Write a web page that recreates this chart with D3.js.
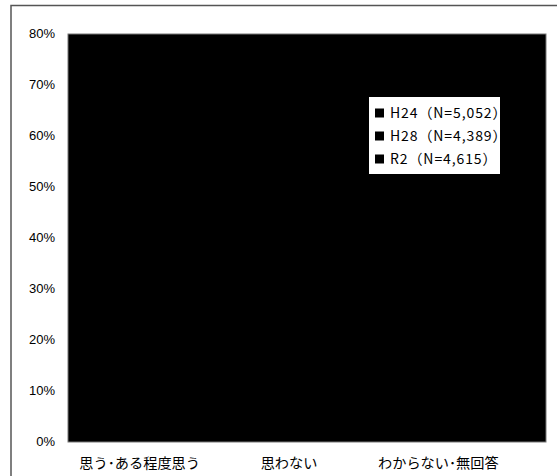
<!DOCTYPE html>
<html><head><meta charset="utf-8">
<script src="https://cdn.jsdelivr.net/npm/d3@7"></script>
<style>body{margin:0;background:#fff}svg{display:block}</style>
</head><body>
<script>
const categories = ["思う･ある程度思う", "思わない", "わからない･無回答"];
const seriesNames = ["H24（N=5,052）", "H28（N=4,389）", "R2（N=4,615）"];
const h24 = [58.0, 27.0, 15.0];
const h28 = [60.0, 25.0, 15.0];
const r2 = [62.0, 24.0, 14.0];
const yTicks = [0, 10, 20, 30, 40, 50, 60, 70, 80];

const W = 557, H = 476;
const svg = d3.select("body").append("svg").attr("width", W).attr("height", H);

// outer frame
svg.append("path").attr("d", `M11,${H} L11,5.5 L${W},5.5`).attr("fill", "none")
  .attr("stroke", "#555").attr("stroke-width", 1.5);

const m = {l: 68, r: 546, t: 34, b: 442};
const x0 = d3.scaleBand().domain(categories).range([65, 513]);
const x = d3.scaleBand().domain(categories).range([65, 513]).paddingInner(0.3).paddingOuter(0.15);
const xs = d3.scaleBand().domain(seriesNames).range([0, x.bandwidth()]);
const y = d3.scaleLinear().domain([0, 80]).range([m.b, m.t]);

// plot area
svg.append("rect").attr("x", m.l).attr("y", m.t).attr("width", m.r - m.l).attr("height", m.b - m.t)
  .attr("fill", "#000");

const series = [h24, h28, r2];
series.forEach((vals, si) => {
  svg.append("g").selectAll("rect").data(categories).join("rect")
    .attr("x", (c) => x(c) + xs(seriesNames[si]))
    .attr("width", xs.bandwidth())
    .attr("y", (c, i) => y(vals[i]))
    .attr("height", (c, i) => y(0) - y(vals[i]))
    .attr("fill", "#000");
});
svg.append("rect").attr("x", m.l).attr("y", m.t).attr("width", m.r - m.l).attr("height", m.b - m.t)
  .attr("fill", "none").attr("stroke", "#777").attr("stroke-width", 1);

// y axis
const yAxis = d3.axisLeft(y).tickValues(yTicks).tickFormat(d => d + "%").tickSize(0).tickPadding(13);
const ya = svg.append("g").attr("transform", `translate(${m.l},-1)`).call(yAxis);
ya.select(".domain").remove();
ya.selectAll("text").attr("font-family", "Liberation Sans, Arial, sans-serif").attr("font-size", 13)
  .attr("fill", "#000").attr("dy", "0.35em");

// x axis
const xAxis = d3.axisBottom(x0).tickSize(0).tickPadding(16);
const xa = svg.append("g").attr("transform", `translate(0,${m.b})`).call(xAxis);
xa.select(".domain").remove();
xa.selectAll("text").attr("font-family", "Noto Sans CJK JP, sans-serif").attr("font-size", 14.2).attr("fill", "#000");

// legend
const lg = svg.append("g").attr("transform", "translate(369,97)");
lg.append("rect").attr("width", 131).attr("height", 77).attr("fill", "#fff");
seriesNames.forEach((n, i) => {
  const yy = 16 + i * 23;
  lg.append("rect").attr("x", 6).attr("y", yy - 4.5).attr("width", 9).attr("height", 9).attr("fill", "#000");
  lg.append("text").attr("x", 21).attr("y", yy).attr("dy", "0.36em").text(n)
    .attr("font-family", "Noto Sans CJK JP, sans-serif").attr("font-size", 14)
    .attr("letter-spacing", 0.9).attr("fill", "#000");
});
</script>
</body></html>
